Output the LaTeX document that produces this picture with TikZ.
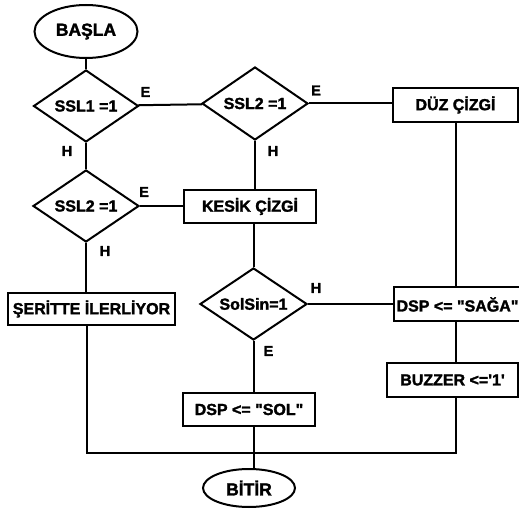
\documentclass[tikz,border=0pt]{standalone}
\usepackage{fontspec}
\newfontfamily\labfont{Liberation Sans Bold}[FakeBold=1.8]
\usetikzlibrary{shapes.geometric}
\begin{document}
\begin{tikzpicture}[x=1pt,y=-1pt,
  line width=2pt,
  every node/.style={font=\labfont\fontsize{16}{19}\selectfont, text=black},
  proc/.style={draw, rectangle, inner sep=0pt},
  dec/.style={draw, diamond, inner sep=0pt, aspect=1.45},
  term/.style={draw, ellipse, inner sep=0pt, font=\labfont\fontsize{17.5}{20}\selectfont},
  lbl/.style={font=\labfont\fontsize{14.5}{16}\selectfont, inner sep=0pt}]
\useasboundingbox (0,0) rectangle (519,510);

% terminals
\node[term, minimum width=103pt, minimum height=53pt] (start) at (86,31.5) {BAŞLA};
\node[term, minimum width=92pt, minimum height=38pt] (end) at (249,488) {BİTİR};

% decisions
\node[dec, minimum width=105pt, minimum height=72pt] (d1) at (86,106) {SSL1 =1};
\node[dec, minimum width=106pt, minimum height=73pt] (d2) at (255,103.5) {SSL2 =1};
\node[dec, minimum width=106pt, minimum height=72pt] (d3) at (86,206) {SSL2 =1};
\node[dec, minimum width=107pt, minimum height=72pt] (d4) at (253.5,304) {SolSin=1};

% processes
\node[proc, minimum width=125pt, minimum height=34pt] (duz) at (455.5,105) {DÜZ ÇİZGİ};
\node[proc, minimum width=132pt, minimum height=33pt] (kesik) at (250,206.5) {KESİK ÇİZGİ};
\node[proc, minimum width=167pt, minimum height=32pt] (serit) at (91.5,309) {ŞERİTTE İLERLİYOR};
\node[proc, minimum width=128pt, minimum height=34pt] (saga) at (457.5,304.5) {DSP <= "SAĞA"};
\node[proc, minimum width=131pt, minimum height=34pt] (buzzer) at (452.5,380) {BUZZER <='1'};
\node[proc, minimum width=132pt, minimum height=33pt] (sol) at (249,409.5) {DSP <= "SOL"};

% branch labels
\node[lbl] (e1) at ([shift={(6,-14)}]d1.east) {E};
\node[lbl] (h1) at ([shift={(-19,8)}]d1.south) {H};
\node[lbl] (e2) at ([shift={(7,-13)}]d2.east) {E};
\node[lbl] (h2) at ([shift={(18,10)}]d2.south) {H};
\node[lbl] (e3) at ([shift={(4,-14)}]d3.east) {E};
\node[lbl] (h3) at ([shift={(19,8)}]d3.south) {H};
\node[lbl] (h4) at ([shift={(8,-16)}]d4.east) {H};
\node[lbl] (e4) at ([shift={(15,10)}]d4.south) {E};

% junction points
\coordinate (jr) at (456,453);
\coordinate (jl) at (87,453);

% connectors
\draw (start) -- (d1);
\draw (d1) -- (d2);
\draw (d1) -- (d3);
\draw (d2.east) -- (duz.west |- d2.east);
\draw (d2.south) -- (d2.south |- kesik.north);
\draw (d3.east) -- (kesik.west |- d3.east);
\draw (d3.south) -- (d3.south |- serit.north);
\draw (d4.north) -- (d4.north |- kesik.south);
\draw (d4.east) -- (saga.west |- d4.east);
\draw (d4.south) -- (d4.south |- sol.north);
\draw (sol.south -| d4.south) -- (end.north -| d4.south);
\draw (duz.south -| jr) -- (saga.north -| jr);
\draw (saga.south -| jr) -- (buzzer.north -| jr);
\draw (buzzer.south -| jr) -- (jr) -- (jl) -- (serit.south -| jl);
\end{tikzpicture}
\end{document}
